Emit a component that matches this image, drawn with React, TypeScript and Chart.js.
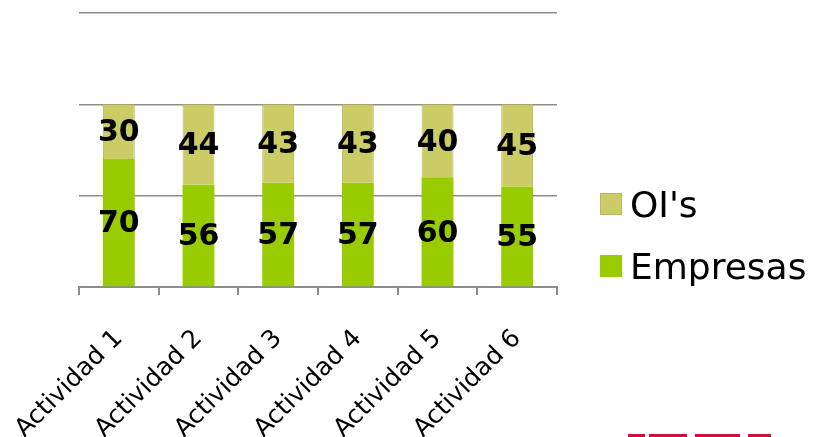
import React, { useEffect, useRef } from "react";
import { Chart, registerables } from "chart.js";

Chart.register(...registerables);

const categories = ["Actividad 1", "Actividad 2", "Actividad 3", "Actividad 4", "Actividad 5", "Actividad 6"];
const empresas = [70, 56, 57, 57, 60, 55];
const ois = [30, 44, 43, 43, 40, 45];
const yMin = 0;
const yMax = 150;
const yStep = 50;

const GREEN = "#99CC00";
const KHAKI = "#CCCC66";
const KHAKI_BORDER = "#B8B85A";
const GRID = "#8C8C8C";
const FONT = "'DejaVu Sans', Verdana, sans-serif";

const valueLabels = {
  id: "valueLabels",
  afterDatasetsDraw(chart: any) {
    const ctx = chart.ctx;
    ctx.save();
    ctx.font = `bold 30px ${FONT}`;
    ctx.fillStyle = "#000000";
    ctx.textAlign = "center";
    ctx.textBaseline = "middle";
    chart.data.datasets.forEach((ds: any, i: number) => {
      const meta = chart.getDatasetMeta(i);
      if (meta.hidden) return;
      meta.data.forEach((el: any, j: number) => {
        const p = el.getProps(["x", "y", "base"], true);
        ctx.fillText(String(ds.data[j]), p.x, (p.y + p.base) / 2 + 2);
      });
    });
    ctx.restore();
  },
};

// Legend drawn at the right of the plot, items in reverse dataset order
const sideLegend = {
  id: "sideLegend",
  afterDraw(chart: any) {
    const ctx = chart.ctx;
    const area = chart.chartArea;
    const box = 22;
    const pitch = 62;
    const x0 = area.right + 43;
    const y0 = area.top + 180;
    const items = chart.data.datasets.map((ds: any) => ds).reverse();
    ctx.save();
    ctx.font = `36px ${FONT}`;
    ctx.textAlign = "left";
    ctx.textBaseline = "alphabetic";
    items.forEach((ds: any, k: number) => {
      const y = y0 + k * pitch;
      ctx.fillStyle = ds.backgroundColor;
      ctx.fillRect(x0, y, box, box);
      if (ds.borderWidth) {
        ctx.strokeStyle = ds.borderColor;
        ctx.lineWidth = ds.borderWidth;
        ctx.strokeRect(x0 + 0.5, y + 0.5, box - 1, box - 1);
      }
      ctx.fillStyle = "#000000";
      ctx.fillText(ds.label, x0 + box + 8, y + box + 2);
    });
    ctx.restore();
  },
};

export default function App() {
  const ref = useRef<HTMLCanvasElement | null>(null);

  useEffect(() => {
    if (!ref.current) return;
    const chart = new Chart(ref.current, {
      type: "bar",
      data: {
        labels: categories,
        datasets: [
          {
            label: "Empresas",
            data: empresas,
            backgroundColor: GREEN,
            borderColor: GREEN,
            borderWidth: 0,
            barPercentage: 0.4,
            categoryPercentage: 1,
          },
          {
            label: "OI's",
            data: ois,
            backgroundColor: KHAKI,
            borderColor: KHAKI_BORDER,
            borderWidth: 1,
            barPercentage: 0.4,
            categoryPercentage: 1,
          },
        ],
      },
      options: {
        animation: false,
        responsive: false,
        maintainAspectRatio: false,
        layout: { padding: { left: 79, top: 13, right: 271, bottom: -36 } },
        scales: {
          x: {
            stacked: true,
            afterFit: (s: any) => {
              s.paddingLeft = 0;
              s.paddingRight = 0;
            },
            grid: {
              offset: true,
              drawOnChartArea: false,
              drawTicks: true,
              tickLength: 8,
              color: GRID,
              lineWidth: 2,
            },
            border: { display: true, color: GRID, width: 2 },
            ticks: {
              minRotation: 45,
              maxRotation: 45,
              color: "#000000",
              padding: 29,
              font: { family: FONT, size: 25 },
            },
          },
          y: {
            stacked: true,
            min: yMin,
            max: yMax,
            ticks: { display: false, stepSize: yStep },
            grid: {
              color: GRID,
              lineWidth: 1.5,
              drawTicks: false,
            },
            border: { display: false },
          },
        },
        plugins: {
          legend: { display: false },
          tooltip: { enabled: false },
        },
      },
      plugins: [valueLabels, sideLegend],
    });
    return () => chart.destroy();
  }, []);

  const logoParts = [
    [628, 17],
    [649, 38],
    [695, 45],
    [748, 23],
  ];

  return (
    <div style={{ position: "fixed", left: 0, top: 0, width: 828, height: 437, background: "#ffffff", overflow: "hidden" }}>
      <canvas ref={ref} width={828} height={437} style={{ display: "block" }} />
      {logoParts.map(([x, w], i) => (
        <div key={i} style={{ position: "absolute", left: x, top: 434, width: w, height: 3, background: "#D0103A" }} />
      ))}
    </div>
  );
}
